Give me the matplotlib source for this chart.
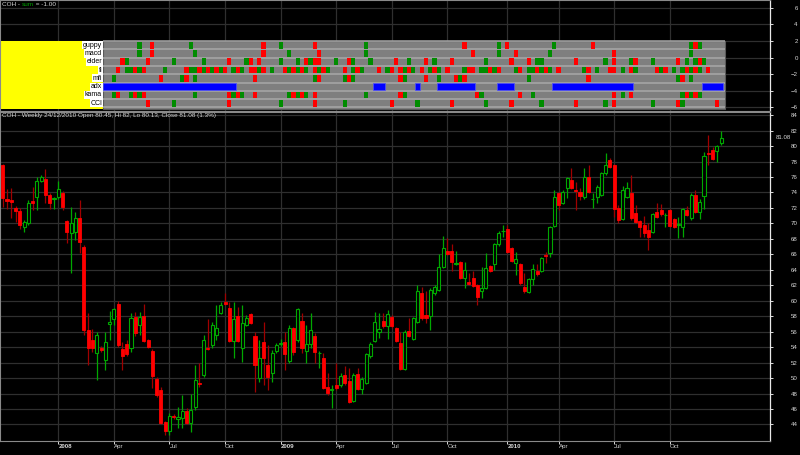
import numpy as np
import pandas as pd
import matplotlib
matplotlib.use("Agg")
import matplotlib.pyplot as plt
import matplotlib.transforms as mtrans
from matplotlib.patches import Rectangle

plt.rcParams['font.family'] = ['Liberation Sans', 'DejaVu Sans']

# weekly bars (Friday), holiday week of 1 Jan 2010 closes on 31 Dec 2009
dates = pd.date_range("2007-10-05", periods=169, freq="W-FRI")
dates = pd.DatetimeIndex([pd.Timestamp("2009-12-31") if d == pd.Timestamp("2010-01-01") else d for d in dates])

opens = [77.6, 73.1, 73.0, 71.96, 71.66, 69.5, 70.02, 72.9, 73.38, 75.45,
         75.71, 73.68, 73.2, 73.38, 73.98, 70.32, 68.72, 68.94, 70.67, 66.99,
         56.22, 54.92, 53.28, 53.93, 52.34, 56.95, 57.6, 59.58, 53.76, 54.45,
         53.85, 57.94, 56.86, 58.07, 54.92, 53.5, 49.88, 48.46, 44.27, 43.15,
         45.13, 44.7, 44.8, 45.8, 44.2, 46.3, 49.4, 50.4, 53.85, 54.28,
         55.57, 58.46, 59.88, 59.02, 54.84, 58.07, 53.85, 56.86, 58.24, 55.44,
         49.96, 54.62, 51.69, 50.61, 53.5, 54.45, 54.62, 52.2, 56.43, 54.92,
         57.38, 53.5, 54.36, 55.44, 53.18, 52.64, 48.89, 48.5, 49.1, 49.1,
         50.4, 49.6, 47.03, 50.5, 48.58, 49.4, 52.85, 54.84, 55.9, 57.38,
         56.73, 57.94, 56.43, 54.58, 51.17, 56.09, 55.05, 57.3, 61.05, 58.16,
         58.03, 60.96, 61.4, 64.4, 66.44, 66.44, 64.8, 64.97, 63.0, 62.47,
         62.9, 62.04, 61.26, 61.7, 64.45, 64.7, 67.3, 69.0, 69.24, 66.79,
         64.84, 64.76, 61.74, 61.18, 62.77, 63.85, 63.89, 65.92, 66.14, 69.67,
         73.9, 72.7, 74.55, 75.63, 74.3, 74.03, 73.38, 75.97, 73.15, 73.47,
         73.68, 76.57, 78.21, 77.57, 71.96, 70.54, 73.47, 73.9, 71.31, 70.32,
         69.8, 69.16, 68.94, 71.49, 71.74, 71.05, 71.74, 70.54, 69.85, 69.5,
         71.74, 70.76, 73.68, 71.53, 73.55, 79.1, 79.5, 79.42, 80.45]
highs = [77.7, 74.5, 74.55, 72.2, 72.0, 70.45, 73.0, 74.76, 75.97, 76.2,
         77.0, 73.9, 73.38, 75.54, 74.2, 70.5, 72.1, 71.5, 73.04, 67.2,
         58.37, 56.4, 56.0, 54.1, 56.0, 58.67, 59.1, 60.0, 54.7, 54.9,
         58.37, 58.6, 58.6, 59.62, 55.1, 53.76, 50.2, 48.9, 44.4, 45.44,
         45.3, 46.3, 47.8, 46.1, 48.0, 51.7, 51.9, 55.6, 57.7, 57.3,
         59.45, 59.9, 60.96, 59.9, 59.9, 59.2, 59.45, 58.2, 58.4, 55.9,
         54.92, 57.2, 54.28, 53.6, 54.5, 55.0, 56.0, 56.86, 56.6, 59.1,
         58.37, 56.86, 58.37, 55.8, 53.5, 53.2, 50.6, 49.1, 51.9, 50.6,
         51.5, 51.3, 50.6, 51.26, 50.1, 53.3, 54.6, 58.6, 58.4, 58.37,
         58.8, 58.2, 56.6, 56.0, 56.2, 57.73, 57.9, 62.1, 61.8, 61.2,
         61.6, 62.0, 66.1, 68.42, 68.08, 67.35, 66.44, 65.2, 65.06, 63.55,
         63.85, 62.2, 64.3, 66.14, 64.6, 67.5, 69.03, 69.8, 69.8, 67.0,
         66.35, 64.9, 63.55, 63.0, 64.7, 64.7, 65.7, 66.35, 69.7, 74.3,
         74.0, 74.3, 76.0, 77.13, 75.4, 74.55, 77.13, 77.57, 73.9, 74.98,
         76.7, 79.07, 78.43, 77.7, 72.4, 74.9, 75.4, 76.27, 72.4, 70.5,
         70.97, 70.1, 71.3, 72.6, 72.5, 71.3, 71.9, 70.7, 70.88, 72.0,
         72.3, 73.9, 74.33, 73.1, 79.3, 81.45, 79.9, 80.2, 82.0]
lows = [72.1, 71.9, 70.7, 70.2, 69.24, 68.94, 69.8, 71.74, 71.74, 75.3,
        72.6, 71.83, 71.83, 73.2, 71.74, 67.43, 63.55, 67.86, 66.13, 55.57,
        51.69, 53.4, 49.75, 53.4, 51.04, 54.92, 56.9, 54.0, 51.04, 52.9,
        53.4, 55.5, 55.57, 54.6, 53.9, 48.7, 47.5, 44.0, 42.6, 42.6,
        44.7, 43.5, 43.5, 44.0, 43.0, 45.9, 48.9, 50.2, 53.6, 53.85,
        54.9, 58.3, 59.4, 54.6, 52.55, 54.6, 52.1, 56.7, 57.0, 48.24,
        49.5, 49.1, 48.45, 49.5, 53.3, 54.2, 51.04, 52.0, 53.0, 54.6,
        53.2, 51.9, 53.9, 51.9, 51.26, 48.6, 47.8, 46.1, 48.5, 48.9,
        49.1, 46.8, 46.9, 48.4, 47.9, 49.2, 52.6, 54.6, 55.2, 56.5,
        55.05, 56.5, 54.6, 51.0, 51.0, 55.3, 54.9, 57.1, 57.5, 57.1,
        56.2, 60.8, 61.2, 64.2, 65.9, 63.85, 64.6, 62.8, 61.6, 62.0,
        61.8, 59.5, 60.3, 61.5, 63.7, 64.0, 67.1, 68.3, 66.2, 65.0,
        63.3, 62.1, 60.96, 61.0, 62.1, 63.2, 63.7, 64.84, 65.6, 69.5,
        71.74, 72.5, 73.25, 74.4, 71.74, 73.04, 73.2, 73.9, 71.96, 72.6,
        73.5, 76.27, 77.2, 70.8, 70.02, 70.4, 73.3, 70.5, 70.0, 68.29,
        68.29, 66.57, 68.8, 70.7, 71.0, 69.6, 69.5, 69.4, 68.08, 68.29,
        70.9, 70.5, 71.3, 70.54, 71.9, 77.57, 78.2, 78.0, 80.13]
closes = [73.3, 72.95, 72.8, 71.66, 69.8, 70.2, 72.6, 72.7, 75.45, 75.97,
          73.68, 72.6, 73.25, 74.5, 72.17, 68.94, 70.02, 70.67, 67.64, 56.22,
          53.93, 53.85, 55.57, 53.6, 54.71, 57.3, 58.89, 54.28, 52.9, 53.16,
          57.73, 55.79, 57.94, 54.84, 54.06, 50.3, 47.8, 44.14, 43.15, 45.13,
          44.9, 45.0, 45.8, 44.2, 45.9, 49.75, 49.2, 54.92, 53.75, 56.86,
          56.43, 59.45, 59.58, 54.84, 57.6, 54.84, 57.08, 57.73, 57.16, 51.69,
          52.64, 52.55, 50.1, 53.28, 54.28, 54.5, 53.11, 56.52, 53.41, 58.89,
          53.85, 54.4, 56.22, 53.41, 53.22, 48.76, 48.02, 48.6, 48.7, 50.3,
          49.3, 46.95, 50.4, 48.54, 49.88, 53.1, 54.36, 57.3, 56.3, 56.73,
          58.24, 56.73, 54.79, 51.13, 56.0, 55.48, 57.73, 61.26, 57.73, 57.73,
          61.35, 61.78, 64.4, 66.8, 66.05, 65.0, 64.9, 62.99, 64.0, 62.2,
          61.95, 60.5, 61.6, 64.2, 63.9, 67.3, 68.72, 69.05, 66.35, 65.14,
          65.36, 62.25, 61.3, 62.77, 64.06, 63.42, 65.53, 65.84, 69.5, 73.38,
          72.4, 74.1, 75.84, 74.55, 74.2, 73.6, 75.97, 74.12, 73.2, 74.76,
          76.49, 77.57, 77.35, 71.83, 70.45, 74.33, 74.55, 70.67, 70.2, 69.59,
          68.8, 68.29, 71.18, 70.88, 71.18, 71.1, 69.67, 69.59, 69.9, 71.83,
          71.05, 73.68, 71.44, 72.82, 78.77, 79.0, 78.34, 80.07, 81.08]

# indicator signals (bar numbers): up = green cell, dn = red cell
rows = ["guppy", "macd", "elder", "fi", "mfi", "adx", "kama", "CCI"]
guppy_up = [32, 44, 65, 85, 116, 129, 161, 163]
guppy_dn = [35, 61, 73, 108, 118, 138, 162]
macd_up = [32, 45, 67, 85, 116, 128, 161]
macd_dn = [35, 61, 74, 110, 120, 143]
elder_up = [29, 40, 47, 57, 65, 69, 72, 78, 82, 86, 95, 101, 113, 125, 126, 141, 147, 152, 160, 162, 164]
elder_dn = [28, 34, 53, 58, 60, 71, 73, 74, 81, 92, 99, 105, 119, 123, 134, 143, 148, 158, 163]
fi_up = [29, 30, 32, 38, 44, 45, 47, 49, 51, 54, 56, 60, 63, 67, 69, 71, 74, 76, 82, 84, 90, 94, 96,
         100, 102, 108, 112, 113, 115, 120, 123, 124, 126, 128, 136, 139, 145, 148, 154, 157, 159, 161, 163]
fi_dn = [27, 31, 33, 43, 46, 48, 50, 52, 55, 58, 59, 61, 66, 68, 70, 73, 75, 80, 83, 88, 91, 93, 95, 98,
         101, 104, 109, 110, 114, 116, 121, 125, 127, 130, 137, 142, 143, 147, 153, 155, 160, 162, 165]
mfi_up = [26, 42, 45, 73, 80, 82, 94, 102, 107, 123, 158, 161]
mfi_dn = [37, 43, 59, 74, 81, 93, 99, 106, 108, 137, 159]
kama_up = [26, 30, 32, 45, 54, 56, 67, 69, 71, 85, 94, 112, 124, 145, 159, 161, 163]
kama_dn = [27, 31, 33, 53, 55, 59, 68, 70, 73, 93, 111, 121, 143, 147, 160, 162]
cci_up = [40, 65, 80, 97, 113, 126, 141, 152, 159]
cci_dn = [34, 53, 73, 91, 105, 119, 134, 143, 158, 167]
adx_start = [24, 87, 97, 102, 116, 129, 164]
adx_end = [54, 89, 97, 110, 119, 147, 168]
first_signal_bar = 24

quarter_names = {1: "Apr", 2: "Jul", 3: "Oct"}

TXT = "#d8d8d8"
GRID = "#2f2f2f"
UP = "#00a800"
DN = "#ff0000"
DNW = "#a00000"

fig = plt.figure(figsize=(8, 4.55), dpi=100, facecolor="black")
ax1 = fig.add_axes([0, 1 - 111 / 455, 770 / 800, 111 / 455])
ax2 = fig.add_axes([0, 1 - 441 / 455, 770 / 800, 329 / 455])

n = len(closes)
x = np.arange(n)
xmin, xmax = -0.63, 179.44

# quarter ticks
tick_pos, tick_lab = [], []
for i in range(1, n):
    if dates[i].quarter != dates[i - 1].quarter:
        tick_pos.append(i)
        tick_lab.append(str(dates[i].year) if dates[i].quarter == 1 else quarter_names[dates[i].quarter - 1])

for ax in (ax1, ax2):
    ax.set_facecolor("black")
    ax.set_xlim(xmin, xmax)
    ax.set_xticks(tick_pos)
    ax.grid(True, color=GRID, lw=0.9)
    ax.set_axisbelow(True)
    ax.yaxis.tick_right()
    ax.tick_params(axis="y", colors="white", labelcolor=TXT, labelsize=4.4, length=2, width=0.6, pad=18)
    for s in ("left", "top", "bottom"):
        ax.spines[s].set_color("#8a8a8a")
        ax.spines[s].set_linewidth(0.8)
    ax.spines["right"].set_color("#e8e8e8")
    ax.spines["right"].set_linewidth(0.9)

# ---- top panel: signal strip ----
ax1.set_ylim(-6.43, 6.95)
ax1.set_yticks(range(-6, 7, 2))
for lab in ax1.get_yticklabels():
    lab.set_horizontalalignment("right")
ax1.tick_params(axis="x", length=0, labelbottom=False)

ax1.add_patch(Rectangle((xmin, -6.15), first_signal_bar - 0.5 - xmin, 8.15, facecolor="#ffff00", edgecolor="none", zorder=2))
ax1.add_patch(Rectangle((first_signal_bar - 0.5, -6.15), n + 0.4 - first_signal_bar, 8.15,
                        facecolor="#7f7f7f", edgecolor="#5a5a5a", lw=0.8, zorder=2))
ax1.hlines(np.arange(-6, 3), first_signal_bar - 0.5, n - 0.1, color="#a8a8a8", lw=1.1, zorder=3)

signals = [(guppy_up, guppy_dn), (macd_up, macd_dn), (elder_up, elder_dn), (fi_up, fi_dn),
           (mfi_up, mfi_dn), (None, None), (kama_up, kama_dn), (cci_up, cci_dn)]
for k, (name, (up, dn)) in enumerate(zip(rows, signals)):
    bottom = 1 - k
    if name == "adx":
        run_len = np.array(adx_end) - np.array(adx_start) + 1
        ax1.bar(np.array(adx_start) - 0.5, height=0.86, width=run_len, bottom=bottom + 0.07,
                align="edge", color="#0000ff", edgecolor="#5050ff", lw=0.5, zorder=4)
    else:
        ax1.bar(up, height=0.8, width=1.0, bottom=bottom + 0.1, color="#008c00", lw=0, zorder=4)
        ax1.bar(dn, height=0.8, width=1.0, bottom=bottom + 0.1, color="#ff0000", lw=0, zorder=4)
    ax1.text(first_signal_bar - 0.75, bottom + 0.5, name, ha="right", va="center", fontsize=5, color="black",
             zorder=5, bbox=dict(facecolor="white", edgecolor="none", pad=0.4))

t1 = ax1.text(2 / 770, 1 - 1.5 / 111, "COH - ", transform=ax1.transAxes, ha="left", va="top", fontsize=4.6, color=TXT)
t2 = ax1.annotate("sum", xy=(1, 0), xycoords=t1, ha="left", va="bottom", fontsize=4.6, color="#00a000")
ax1.annotate(" = -1.00", xy=(1, 0), xycoords=t2, ha="left", va="bottom", fontsize=4.6, color=TXT)

# ---- bottom panel: candles ----
ax2.set_ylim(41.86, 84.41)
ax2.set_yticks(range(44, 85, 2))
for lab in ax2.get_yticklabels():
    lab.set_horizontalalignment("right")
ax2.set_xticklabels(tick_lab)
ax2.tick_params(axis="x", colors="white", labelcolor=TXT, labelsize=4.4, length=2, width=0.6, pad=0.5)
for lab in ax2.get_xticklabels():
    lab.set_horizontalalignment("left")
    if lab.get_text().isdigit():
        lab.set_fontweight("bold")

o = np.array(opens)
h = np.array(highs)
l = np.array(lows)
c = np.array(closes)
rising = c >= o
ax2.vlines(x, l, h, colors=np.where(rising, UP, DNW), lw=0.9, zorder=2)
w = 0.72
for i in range(n):
    lo, hi = min(o[i], c[i]), max(o[i], c[i])
    if rising[i]:
        ax2.add_patch(Rectangle((i - w / 2, lo), w, max(hi - lo, 0.02), facecolor="black", edgecolor=UP, lw=0.8, zorder=3))
    else:
        ax2.add_patch(Rectangle((i - w / 2, lo), w, max(hi - lo, 0.02), facecolor=DN, edgecolor=DN, lw=0.6, zorder=3))

last = n - 1
chg = (closes[last] / closes[last - 1] - 1) * 100
ax2.text(2 / 770, 1 - 1.5 / 329,
         f"COH - Weekly {dates[last]:%d/%m/%Y} Open {opens[last]:g}, Hi {highs[last]:g}, "
         f"Lo {lows[last]:g}, Close {closes[last]:g} ({chg:.1f}%)",
         transform=ax2.transAxes, ha="left", va="top", fontsize=4.6, color=TXT)
tr = mtrans.blended_transform_factory(fig.transFigure, ax2.transData)
ax2.text(776 / 800, closes[last], f"{closes[last]:.2f}", transform=tr, ha="left", va="center",
         fontsize=4.4, color=TXT)

fig.savefig("out.png", dpi=100, facecolor="black")
